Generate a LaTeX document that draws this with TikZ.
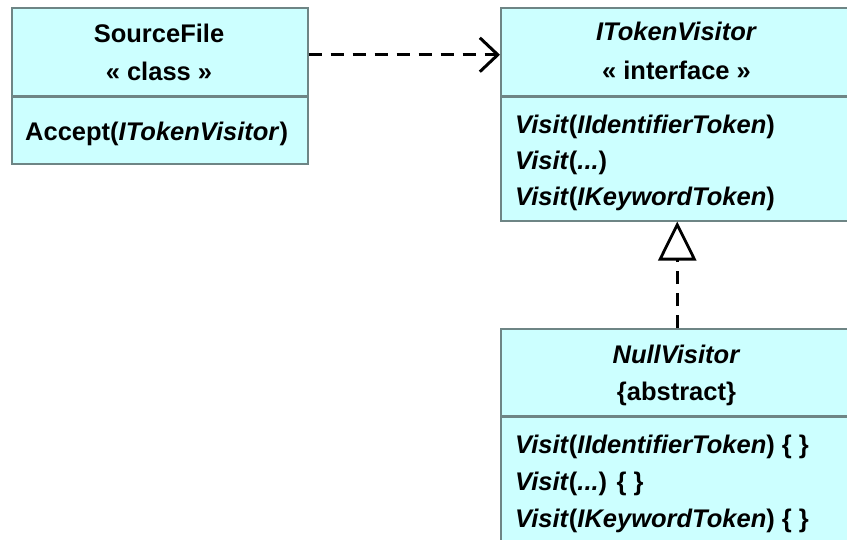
\documentclass[tikz,border=0pt]{standalone}
\usepackage{fontspec}
\setmainfont{Liberation Sans}
\usetikzlibrary{arrows.meta}
\definecolor{boxfill}{HTML}{CCFFFF}
\definecolor{boxline}{HTML}{6E8585}
\tikzset{
  comp/.style={rectangle, draw=boxline, fill=boxfill, line width=1.5pt, inner sep=0pt, anchor=north west},
  divider/.style={draw=boxline, line width=2.4pt},
  txt/.style={inner sep=0pt, font=\fontsize{25.5}{36}\selectfont\bfseries},
  ctxt/.style={txt, anchor=base},
  ltxt/.style={txt, anchor=base west},
  conn/.style={line width=3pt, dash pattern=on 13pt off 9pt, black}
}
\begin{document}
\begin{tikzpicture}[x=1pt,y=-1pt]
\useasboundingbox (0,0) rectangle (847,539);
\clip (0,0) rectangle (847,539);
\fill[white] (0,0) rectangle (847,539);
% SourceFile
\node[comp, minimum width=296pt, minimum height=88pt] (sfh) at (11,7) {};
\node[comp, minimum width=296pt, minimum height=68pt] (sfm) at (11,95) {};
\draw[divider] (sfh.south west) -- (sfh.south east);
\node[ctxt] (sf1) at (159,42) {SourceFile};
\node[ctxt] (sf2) at (159,80) {« class »};
\node[ltxt] (sf3) at (25,140) {Accept(\textit{ITokenVisitor})};
% ITokenVisitor
\node[comp, minimum width=353pt, minimum height=88pt] (tvh) at (500,7) {};
\node[comp, minimum width=353pt, minimum height=125pt] (tvm) at (500,95) {};
\draw[divider] (tvh.south west) -- (tvh.south east);
\node[ctxt] (tv1) at (676.5,40) {\textit{ITokenVisitor}};
\node[ctxt] (tv2) at (676.5,79) {« interface »};
\node[ltxt] (tv3) at (515,133) {\textit{Visit}(\textit{IIdentifierToken})};
\node[ltxt] (tv4) at (515,169) {\textit{Visit}(\textit{...})};
\node[ltxt] (tv5) at (515,205) {\textit{Visit}(\textit{IKeywordToken})};
% NullVisitor
\node[comp, minimum width=353pt, minimum height=87pt] (nvh) at (500,328) {};
\node[comp, minimum width=353pt, minimum height=150pt] (nvm) at (500,415) {};
\draw[divider] (nvh.south west) -- (nvh.south east);
\node[ctxt] (nv1) at (676.5,363) {\textit{NullVisitor}};
\node[ctxt] (nv2) at (676.5,400) {\{abstract\}};
\node[ltxt] (nv3) at (515,453) {\textit{Visit}(\textit{IIdentifierToken}) \{ \}};
\node[ltxt] (nv4) at (515,490) {\textit{Visit}(\textit{...}) \{ \}};
\node[ltxt] (nv5) at (515,527) {\textit{Visit}(\textit{IKeywordToken}) \{ \}};
% connectors
\draw[conn, -{Straight Barb[length=18pt, width=34pt, line width=3pt]}]
  ([yshift=-3pt]sfh.east) -- ([yshift=-3pt]tvh.west);
\draw[conn, -{Triangle[open, fill=white, length=39pt, width=38pt, line width=2.8pt]}]
  (nvh.north) -- (tvm.south);
\end{tikzpicture}
\end{document}
